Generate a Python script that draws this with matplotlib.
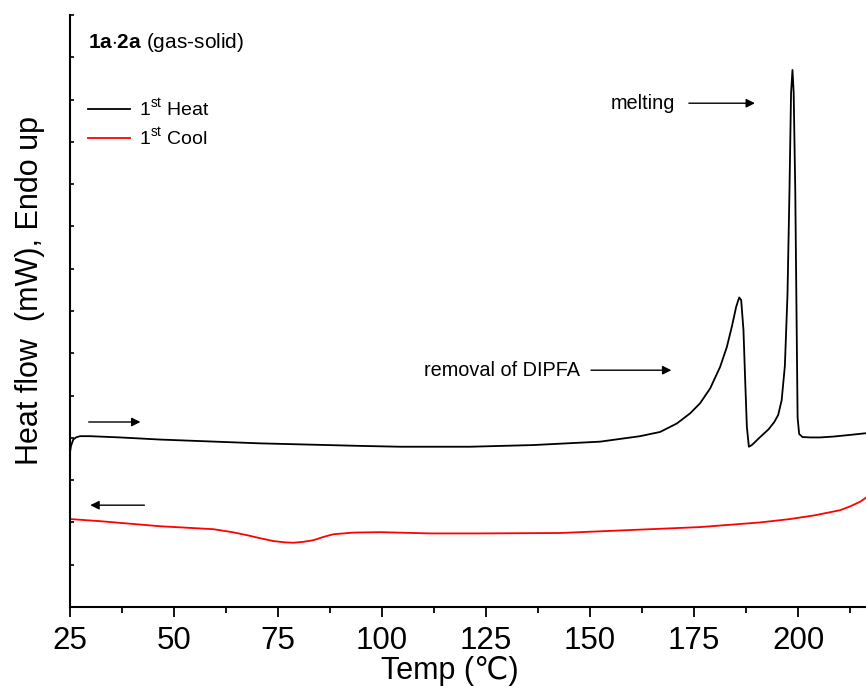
# DSC trace: first heat (black) and first cool (red), heat flow in arbitrary units.
import matplotlib.pyplot as plt
from matplotlib.ticker import MultipleLocator, NullFormatter

plt.rcParams["font.family"] = ["Liberation Sans", "DejaVu Sans"]
plt.rcParams["mathtext.fontset"] = "custom"
plt.rcParams["mathtext.rm"] = "Liberation Sans"
plt.rcParams["mathtext.bf"] = "Liberation Sans:bold"

heat_t = [25.00, 25.24, 25.79, 26.44, 27.40, 29.81, 37.02, 46.63, 70.67, 94.71,
          104.33, 121.15, 136.37, 152.40, 162.02, 166.83, 170.84, 174.04, 176.44,
          178.85, 181.25, 182.86, 184.06, 185.10, 185.82, 186.30, 186.85, 187.26,
          187.67, 188.15, 188.87, 190.87, 192.86, 194.23, 195.19, 196.03, 196.80,
          197.43, 197.91, 198.29, 198.63, 198.92, 199.30, 199.62, 199.86, 200.24,
          201.03, 202.88, 205.29, 208.41, 212.50, 216.35]
heat_y = [3.66, 3.81, 3.96, 4.01, 4.04, 4.04, 4.01, 3.96, 3.87, 3.81,
          3.79, 3.79, 3.83, 3.91, 4.04, 4.14, 4.34, 4.58, 4.82,
          5.17, 5.68, 6.15, 6.63, 7.10, 7.32, 7.26, 6.55, 5.37,
          4.26, 3.79, 3.83, 4.02, 4.20, 4.37, 4.54, 4.89, 5.70,
          7.38, 9.86, 12.16, 12.70, 12.16, 9.86, 6.78, 4.48, 4.09,
          4.02, 4.01, 4.01, 4.03, 4.07, 4.11]

cool_t = [25.00, 32.21, 39.42, 46.63, 59.45, 64.0, 67.48, 71.0, 73.87, 76.5,
          78.68, 81.0, 83.49, 86.0, 88.29, 93.10, 99.52, 111.54, 123.56, 142.79,
          157.21, 176.44, 190.87, 198.08, 204.09, 210.10, 212.50, 214.90, 216.35]
cool_y = [2.08, 2.03, 1.97, 1.91, 1.84, 1.77, 1.70, 1.62, 1.56, 1.53,
          1.52, 1.54, 1.58, 1.66, 1.72, 1.76, 1.77, 1.74, 1.74, 1.75,
          1.81, 1.89, 2.00, 2.08, 2.17, 2.29, 2.38, 2.49, 2.59]

fig = plt.figure(figsize=(8.66, 6.96), dpi=100)
ax = fig.add_axes([70 / 866, 89 / 696, 796 / 866, 592 / 696])

ax.plot(heat_t, heat_y, color="black", lw=1.3, label=r"1$^{\rm st}$ Heat")
ax.plot(cool_t, cool_y, color="red", lw=1.3, label=r"1$^{\rm st}$ Cool")

ax.set_xlim(25, 216.3)
ax.set_ylim(0, 14)
ax.xaxis.set_major_locator(MultipleLocator(25))
ax.xaxis.set_minor_locator(MultipleLocator(12.5))
ax.yaxis.set_major_locator(MultipleLocator(1))
ax.yaxis.set_major_formatter(NullFormatter())
ax.tick_params(axis="x", which="major", direction="out", length=7.5, width=1.3,
               labelsize=22.5, pad=6.5)
ax.tick_params(axis="x", which="minor", direction="out", length=4.5, width=1.3)
ax.tick_params(axis="y", direction="in", length=3, width=1.2)
for s in ("top", "right"):
    ax.spines[s].set_visible(False)
for s in ("left", "bottom"):
    ax.spines[s].set_linewidth(1.5)

ax.set_xlabel("Temp (℃)", fontsize=22, va="top")
ax.xaxis.set_label_coords(0.477, -0.083)
ax.set_ylabel("Heat flow  (mW), Endo up", fontsize=22)
ax.yaxis.set_label_coords(-0.032, 0.535)

ax.text(0.0226, 0.953, r"$\mathbf{1a{\cdot}2a}$ (gas-solid)", transform=ax.transAxes,
        fontsize=15, va="center", ha="left")
ax.legend(loc="upper left", bbox_to_anchor=(0.0, 0.89), frameon=False,
          fontsize=14, handlelength=2.2, handletextpad=0.45, labelspacing=0.32)

arrow = dict(arrowstyle="-|>", color="black", lw=1.0, mutation_scale=13)
ax.annotate("", xy=(0.864, 0.851), xytext=(0.774, 0.851), xycoords="axes fraction",
            arrowprops=arrow)
ax.text(0.760, 0.851, "melting", transform=ax.transAxes, fontsize=14.3,
        ha="right", va="center")
ax.annotate("", xy=(0.759, 0.400), xytext=(0.651, 0.400), xycoords="axes fraction",
            arrowprops=arrow)
ax.text(0.641, 0.400, "removal of DIPFA", transform=ax.transAxes, fontsize=14.3,
        ha="right", va="center")
ax.annotate("", xy=(0.092, 0.3125), xytext=(0.020, 0.3125), xycoords="axes fraction",
            arrowprops=arrow)
ax.annotate("", xy=(0.022, 0.172), xytext=(0.097, 0.172), xycoords="axes fraction",
            arrowprops=arrow)

fig.savefig("out.png", dpi=100)
